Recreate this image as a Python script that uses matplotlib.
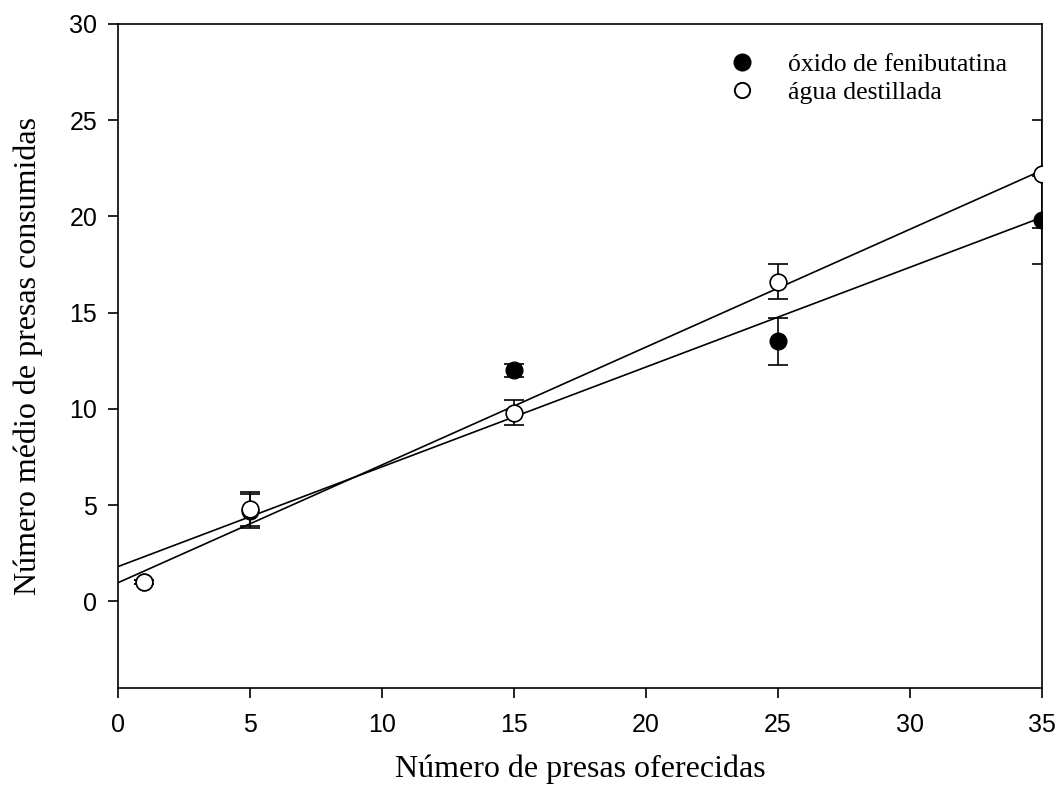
import matplotlib.pyplot as plt
import numpy as np

presas = [1, 5, 15, 25, 35]

oxido_media = [1.0, 4.7, 12.0, 13.5, 19.8]
oxido_erro = [0.1, 0.9, 0.35, 1.2, 2.3]

agua_media = [1.0, 4.8, 9.8, 16.6, 22.2]
agua_erro = [0.1, 0.9, 0.65, 0.9, 2.8]

x_ticks = [0, 5, 10, 15, 20, 25, 30, 35]
y_ticks = [0, 5, 10, 15, 20, 25, 30]

SERIF = "Liberation Serif"
SANS = "Liberation Sans"

fig = plt.figure(figsize=(10.64, 7.98), dpi=100)
ax = fig.add_axes([0.111, 0.138, 0.868, 0.832])

# regression lines over the full x range
x_line = np.array([0, 35])
for media in (oxido_media, agua_media):
    slope, intercept = np.polyfit(presas, media, 1)
    ax.plot(x_line, slope * x_line + intercept, color="black", lw=1.2, zorder=2)

ax.errorbar(presas, oxido_media, yerr=oxido_erro, fmt="o", color="black",
            mfc="black", mec="black", ms=12, capsize=7, elinewidth=1.2,
            capthick=1.2, zorder=3)
ax.errorbar(presas, agua_media, yerr=agua_erro, fmt="o", color="black",
            mfc="white", mec="black", mew=1.2, ms=12, capsize=7,
            elinewidth=1.2, capthick=1.2, zorder=4)

# legend with markers only
h1, = ax.plot([], [], "o", color="black", ms=12)
h2, = ax.plot([], [], "o", mfc="white", mec="black", mew=1.4, ms=11)
ax.legend([h1, h2], ["óxido de fenibutatina", "água destillada"],
          loc="upper right", bbox_to_anchor=(0.988, 0.991), frameon=False,
          prop={"family": SERIF, "size": 18.5}, handletextpad=1.2,
          handlelength=1.2, labelspacing=0.2)

ax.set_xlim(0, 35)
ax.set_ylim(-4.5, 30)
ax.set_xticks(x_ticks)
ax.set_yticks(y_ticks)
ax.tick_params(direction="out", length=7, width=1.2, labelsize=18)
ax.tick_params(axis="x", pad=11)
ax.tick_params(axis="y", pad=8)
for lab in ax.get_xticklabels() + ax.get_yticklabels():
    lab.set_family(SANS)
for sp in ax.spines.values():
    sp.set_linewidth(1.2)

ax.set_xlabel("Número de presas oferecidas", family=SERIF, size=23,
              labelpad=13)
ax.set_ylabel("Número médio de presas consumidas", family=SERIF, size=23,
              labelpad=19)

fig.savefig("out.png", dpi=100)
